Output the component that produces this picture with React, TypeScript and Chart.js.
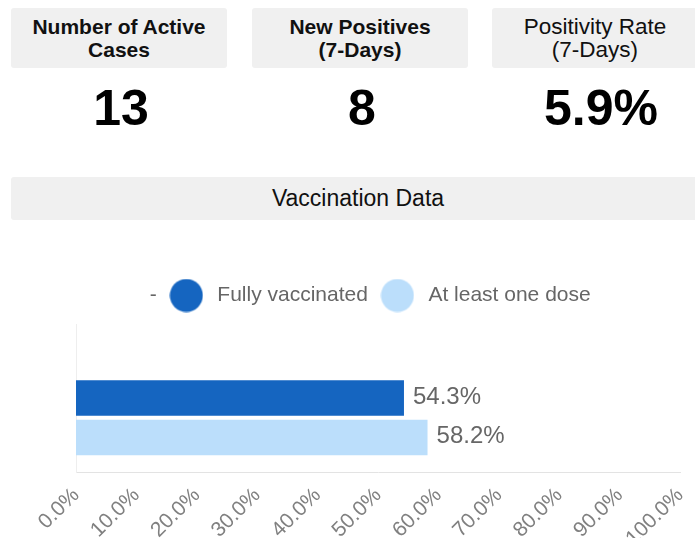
import React, { useEffect, useRef } from "react";
import { Chart, registerables } from "chart.js";

Chart.register(...registerables);

const FONT = "'Liberation Sans', Arial, Helvetica, sans-serif";

// KPI cards
const kpiTitles = ["Number of Active\nCases", "New Positives\n(7-Days)", "Positivity Rate\n(7-Days)"];
const kpiValues = ["13", "8", "5.9%"];
const kpiBold = [true, true, false];

// Vaccination chart
const sectionTitle = "Vaccination Data";
const categories = [""];
const seriesLabels = ["-", "Fully vaccinated", "At least one dose"];
const placeholderValues: (number | null)[] = [null];
const fullyVaccinatedValues = [54.3];
const atLeastOneDoseValues = [58.2];
const seriesColors = ["rgba(0,0,0,0)", "#1565C0", "#BBDEFB"];
const xMin = 0;
const xMax = 100;
const xStep = 10;

function circleImage(color: string, d: number) {
  const c = document.createElement("canvas");
  c.width = d;
  c.height = d;
  const g = c.getContext("2d")!;
  g.fillStyle = color;
  g.beginPath();
  g.arc(d / 2, d / 2, d / 2 - 0.5, 0, Math.PI * 2);
  g.fill();
  return c;
}

const legendGap = {
  id: "legendGap",
  beforeInit(chart: any) {
    const l = chart.legend;
    if (!l) return;
    const fit = l.fit;
    l.fit = function () {
      fit.call(this);
      this.height += 8;
    };
  },
  afterLayout(chart: any) {
    const l = chart.legend;
    if (!l) return;
    l.left -= 4.5;
    l.right -= 4.5;
  },
};

const barValueLabels = {
  id: "barValueLabels",
  afterDatasetsDraw(chart: any) {
    const ctx = chart.ctx;
    ctx.save();
    ctx.font = `24px ${FONT}`;
    ctx.fillStyle = "#666666";
    ctx.textAlign = "left";
    ctx.textBaseline = "middle";
    chart.data.datasets.forEach((ds: any, i: number) => {
      const meta = chart.getDatasetMeta(i);
      meta.data.forEach((el: any, j: number) => {
        const v = ds.data[j];
        if (v === null || v === undefined) return;
        ctx.fillText(Number(v).toFixed(1) + "%", el.x + 9, el.y - 1);
      });
    });
    ctx.restore();
  },
};

function VaccinationChart() {
  const ref = useRef<HTMLCanvasElement | null>(null);
  useEffect(() => {
    if (!ref.current) return;
    const images = seriesColors.map((c) => circleImage(c, 34));
    const chart = new Chart(ref.current, {
      type: "bar",
      data: {
        labels: categories,
        datasets: [
          { label: seriesLabels[0], data: placeholderValues, backgroundColor: seriesColors[0] },
          { label: seriesLabels[1], data: fullyVaccinatedValues, backgroundColor: seriesColors[1] },
          { label: seriesLabels[2], data: atLeastOneDoseValues, backgroundColor: seriesColors[2] },
        ],
      },
      options: {
        indexAxis: "y",
        responsive: false,
        animation: false,
        layout: { padding: { left: 7, right: 7, top: 0, bottom: 0 } },
        plugins: {
          tooltip: { enabled: false },
          legend: {
            position: "top",
            labels: {
              usePointStyle: true,
              pointStyleWidth: 41,
              padding: 9,
              color: "#666666",
              font: { family: FONT, size: 21 },
              generateLabels: (ch: any) => {
                const items = (Chart as any).defaults.plugins.legend.labels.generateLabels(ch);
                return items.map((it: any, i: number) => ({
                  ...it,
                  pointStyle: images[i],
                  lineWidth: 0,
                  strokeStyle: "rgba(0,0,0,0)",
                }));
              },
            },
          },
        },
        scales: {
          x: {
            min: xMin,
            max: xMax,
            grid: { display: false, drawTicks: true },
            border: { display: true, color: "#e3e3e3" },
            ticks: {
              stepSize: xStep,
              minRotation: 45,
              maxRotation: 45,
              color: "#808080",
              font: { family: FONT, size: 21 },
              callback: (v: any) => Number(v).toFixed(1) + "%",
            },
            afterFit: (s: any) => {
              s.height = 66;
              s.paddingLeft = 0;
              s.paddingRight = 0;
            },
          },
          y: {
            grid: { display: false },
            border: { display: true, color: "#eeeeee" },
            ticks: { display: false },
            afterFit: (s: any) => {
              s.width = 58;
              s.paddingTop = 0;
              s.paddingBottom = 0;
            },
          },
        },
      },
      plugins: [legendGap, barValueLabels],
    } as any);
    return () => chart.destroy();
  }, []);
  return (
    <canvas
      ref={ref}
      width={676}
      height={262}
      style={{ position: "absolute", left: 11, top: 276, width: 676, height: 262, display: "block" }}
    />
  );
}

const cardLefts = [11, 252, 492];
const cardWidths = [216, 216, 206];
const numberCenters = [121, 362, 601];

export default function App() {
  return (
    <div
      style={{
        position: "fixed",
        left: 0,
        top: 0,
        width: 695,
        height: 538,
        overflow: "hidden",
        background: "#ffffff",
        fontFamily: FONT,
      }}
    >
      {kpiTitles.map((t, i) => (
        <React.Fragment key={i}>
          <div
            style={{
              position: "absolute",
              left: cardLefts[i],
              top: 8,
              width: cardWidths[i] + (i === 2 ? 20 : 0),
              height: 60,
              background: "#f0f0f0",
              borderRadius: 3,
              boxSizing: "border-box",
              paddingTop: 7,
              paddingRight: i === 2 ? 20 : 0,
              textAlign: "center",
              color: "#111111",
              fontWeight: kpiBold[i] ? 700 : 400,
              fontSize: kpiBold[i] ? 21 : 22.5,
              lineHeight: "23px",
              whiteSpace: "pre-line",
            }}
          >
            {t}
          </div>
          <div
            style={{
              position: "absolute",
              left: numberCenters[i] - 100,
              top: 83,
              width: 200,
              height: 50,
              textAlign: "center",
              fontWeight: 700,
              fontSize: 50,
              lineHeight: "50px",
              color: "#000000",
            }}
          >
            {kpiValues[i]}
          </div>
        </React.Fragment>
      ))}
      <div
        style={{
          position: "absolute",
          left: 11,
          top: 177,
          width: 694,
          height: 43,
          background: "#f0f0f0",
          borderRadius: 3,
          textAlign: "center",
          fontSize: 23,
          lineHeight: "43px",
          color: "#111111",
        }}
      >
        {sectionTitle}
      </div>
      <VaccinationChart />
    </div>
  );
}
